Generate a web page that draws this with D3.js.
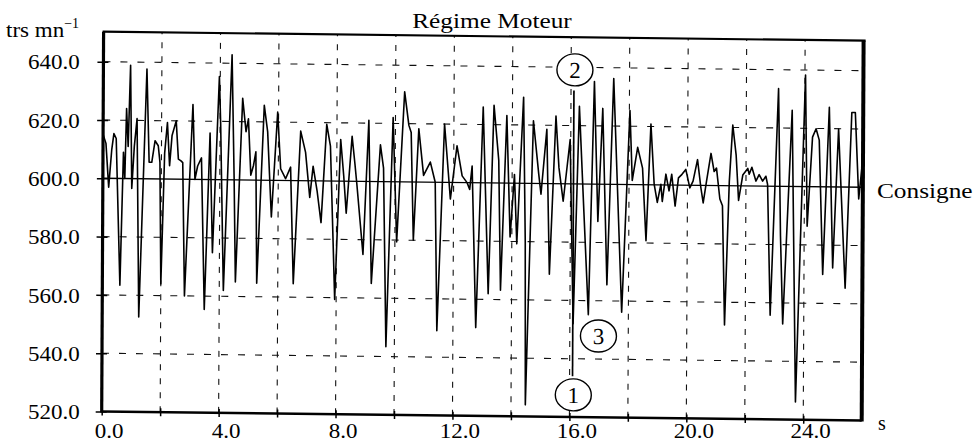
<!DOCTYPE html>
<html><head><meta charset="utf-8">
<script src="https://cdn.jsdelivr.net/npm/d3@7"></script>
<style>
body{margin:0;background:#fff}
text{font-family:"Liberation Serif","Times New Roman",serif;fill:#000}
</style>
</head><body>
<svg id="c" width="974" height="448"></svg>
<script>
// ---- data ----
const times = [0.00,0.10,0.20,0.30,0.37,0.45,0.60,0.70,0.75,0.80,0.86,0.93,0.99,1.07,1.16,1.25,1.49,1.58,1.67,1.78,1.89,1.95,2.00,2.11,2.20,2.28,2.36,2.50,2.58,2.67,2.73,2.81,3.07,3.15,3.24,3.37,3.49,3.66,3.76,3.97,4.02,4.14,4.40,4.49,4.55,4.77,4.89,4.97,5.06,5.15,5.23,5.28,5.51,5.63,5.77,5.97,6.08,6.25,6.42,6.53,6.76,6.93,7.08,7.19,7.33,7.47,7.65,7.78,7.95,8.13,8.24,8.33,8.52,8.62,8.69,8.91,9.09,9.20,9.49,9.60,9.71,9.92,10.06,10.31,10.46,10.54,10.63,10.80,10.97,11.20,11.37,11.45,11.68,11.89,12.11,12.29,12.46,12.55,12.63,12.78,13.00,13.20,13.37,13.54,13.62,13.81,13.94,14.08,14.17,14.38,14.46,14.49,14.72,14.91,14.99,15.18,15.29,15.49,15.60,15.75,15.98,16.11,16.29,16.46,16.63,16.80,16.94,17.09,17.26,17.46,17.77,18.02,18.11,18.29,18.46,18.59,18.74,18.86,18.97,19.09,19.14,19.26,19.37,19.46,19.58,19.69,19.81,19.94,20.08,20.19,20.34,20.46,20.54,20.65,20.80,20.91,20.99,21.11,21.20,21.29,21.43,21.54,21.66,21.75,21.89,22.06,22.11,22.20,22.34,22.45,22.57,22.68,22.74,22.85,23.10,23.19,23.28,23.57,23.73,24.02,24.10,24.27,24.39,24.50,24.64,24.84,24.98,25.16,25.41,25.61,25.73,25.86,25.98];
const speeds = [615,612,597,610,615.4,613.7,563.4,609,600,624,611,638.9,596.6,611,620.6,552.6,637.7,605.7,605.7,613.1,611.4,605.7,564,609,619.4,604.6,615,620,606.9,606.3,605.7,560,625.7,600,604.6,607.4,555.4,616,574.9,635.4,619.4,562,642.9,600.6,565,628,616.6,621,601.7,605,609.7,564.6,625.7,616.6,587.4,623.4,604,600.6,604.6,564.6,617,609.7,594.3,605,596.6,585.7,619.4,612,559.4,614.3,601.7,589,615.4,606,599,574.9,621,565,612.6,604.6,543.4,622,579.4,630.9,619.4,617,580,618.3,602.3,606.9,600,549.1,620,594.3,612.6,602.3,600,597.7,605.7,550.3,626,562,626.6,607.8,563.2,623.2,581.5,603,579.2,629.5,580,524,621.5,603.2,596.3,618.6,568.9,623.2,605.5,594,615.2,552,626.6,590.6,555.2,635.2,587.2,626,565.5,636.3,556.2,625.4,601.4,612.8,605.7,580.8,620.8,600.2,594,600.2,594.3,603.7,598,603.7,592.8,602.5,603.7,605.4,599.1,601.4,608.8,599.1,594,601.4,611,604.8,606,595.4,593.1,552.2,601.4,620.8,610.5,595,603.7,606,604,606.4,601.7,603.9,601.7,603.4,600.6,555.7,633.5,583,552.8,626.1,526.1,638.3,586.4,617,619.9,616,569.9,627.3,572.2,619.9,565.3,625.6,625.6,596,608.5];
const consigne = 600;
const yTickValues = [520,540,560,580,600,620,640];
const yGridValues = [540,560,580,620,640];
const xTickValues = [0,2,4,6,8,10,12,14,16,18,20,22,24];
const xLabelValues = [0,4,8,12,16,20,24];
const markerLabels = ["2","1","3"];
const markerTimes = [16.13,16.13,16.98];
const markerValues = [639.1,527.6,547.9];
const markerLineTime = 16.1;
const markerLineRange = [632,534];
const title = "Régime Moteur";
const consigneLabel = "Consigne";
const xUnit = "s";

// ---- chart ----
const svg = d3.select("#c");
const x = d3.scaleLinear().domain([0,26]).range([101.7,861.7]);
const y = d3.scaleLinear().domain([520,650.3]).range([411.5,31.7]);
const X0 = x(0), Y0 = y(520);
// scanned reference is slightly skewed
const b = 0.0118, c = -0.005;
const g = svg.append("g")
  .attr("transform", `matrix(1,${b},${c},1,${-c*Y0},${-b*X0})`);

// grid
g.selectAll(".hg").data(yGridValues).join("line")
  .attr("x1", x(0)).attr("x2", x(26))
  .attr("y1", d=>y(d)).attr("y2", d=>y(d))
  .attr("stroke","#111").attr("stroke-width",1.1).attr("stroke-dasharray","7,10");
g.selectAll(".vg").data(xTickValues.filter(d=>d>0)).join("line")
  .attr("x1", d=>x(d)).attr("x2", d=>x(d))
  .attr("y1", y(520)).attr("y2", y(650.3))
  .attr("stroke","#111").attr("stroke-width",1.1).attr("stroke-dasharray","6,8");

// consigne
g.append("line").attr("x1",x(0)).attr("x2",x(26))
  .attr("y1",y(consigne)).attr("y2",y(consigne))
  .attr("stroke","#000").attr("stroke-width",1.4);

// signal
g.append("path").datum(d3.zip(times,speeds))
  .attr("d", d3.line().x(d=>x(d[0])).y(d=>y(d[1])))
  .attr("fill","none").attr("stroke","#000").attr("stroke-width",1.6)
  .attr("stroke-linejoin","round");

// marker line & circles
g.append("line").attr("x1",x(markerLineTime)).attr("x2",x(markerLineTime))
  .attr("y1",y(markerLineRange[0])).attr("y2",y(markerLineRange[1]))
  .attr("stroke","#000").attr("stroke-width",1.7);
const mk = g.selectAll(".mk").data(d3.zip(markerLabels,markerTimes,markerValues)).join("g")
  .attr("transform", d=>`translate(${x(d[1])},${y(d[2])})`);
mk.append("ellipse").attr("rx",18).attr("ry",16).attr("fill","#fff")
  .attr("stroke","#000").attr("stroke-width",1.4);
mk.append("text").attr("text-anchor","middle").attr("dy","0.35em")
  .style("font-size","23px").text(d=>d[0]);

// frame
const fr = g.append("g").attr("stroke","#000").attr("fill","none");
fr.append("line").attr("x1",x(0)-1).attr("x2",x(26)+2).attr("y1",y(650.3)).attr("y2",y(650.3)).attr("stroke-width",2.2);
fr.append("line").attr("x1",x(0)).attr("x2",x(0)).attr("y1",y(650.3)).attr("y2",y(520)+1).attr("stroke-width",3.2);
fr.append("line").attr("x1",x(26)).attr("x2",x(26)).attr("y1",y(650.3)).attr("y2",y(520)+1).attr("stroke-width",4);
fr.append("line").attr("x1",x(0)).attr("x2",x(26)).attr("y1",y(520)).attr("y2",y(520)).attr("stroke-width",2.6);

// tick marks
g.append("g").attr("transform",`translate(${x(0)},0)`)
  .call(d3.axisLeft(y).tickValues(yTickValues).tickSize(6).tickFormat(""))
  .call(s=>s.select(".domain").remove())
  .call(s=>s.selectAll(".tick line").attr("x2",-6).attr("x1",5).attr("stroke-width",1.5));
g.append("g").attr("transform",`translate(0,${y(520)})`)
  .call(d3.axisBottom(x).tickValues(xTickValues).tickSize(4).tickFormat(""))
  .call(s=>s.select(".domain").remove())
  .call(s=>s.selectAll(".tick line").attr("y1",-4).attr("y2",4).attr("stroke-width",1.5));

// labels (not skewed)
const yl = svg.append("g").attr("transform",`translate(${x(0)},0)`)
  .call(d3.axisLeft(y).tickValues(yTickValues).tickSize(0).tickPadding(22).tickFormat(d3.format(".1f")));
yl.select(".domain").remove();
yl.selectAll("text").attr("class","st").attr("dy","0.36em")
  .style("font-size","20px").style("font-family",null);

const xl = svg.append("g").attr("transform",`translate(0,${Y0})`)
  .call(d3.axisBottom(x).tickValues(xLabelValues).tickSize(0).tickPadding(12).tickFormat(d3.format(".1f")));
xl.select(".domain").remove();
xl.selectAll("text").attr("class","st").attr("dx",7)
  .style("font-size","20px").style("font-family",null);

svg.append("text").attr("class","st").attr("x",492).attr("y",28)
  .attr("text-anchor","middle").style("font-size","22px").text(title);
svg.append("text").attr("class","st").attr("x",877).attr("y",198)
  .style("font-size","22px").text(consigneLabel);
svg.append("text").attr("x",878).attr("y",430)
  .style("font-size","20px").text(xUnit);
const u = svg.append("text").attr("x",6).attr("y",37).style("font-size","20px");
u.append("tspan").attr("class","su").text("trs mn");
u.append("tspan").attr("dy",-9).style("font-size","14px").text("−1");

// horizontal stretch to match the scanned lettering
svg.selectAll("text.st, tspan.su").each(function(){
  const n = this.getComputedTextLength();
  d3.select(this).attr("textLength", n*1.15).attr("lengthAdjust","spacingAndGlyphs");
});
</script>
</body></html>
